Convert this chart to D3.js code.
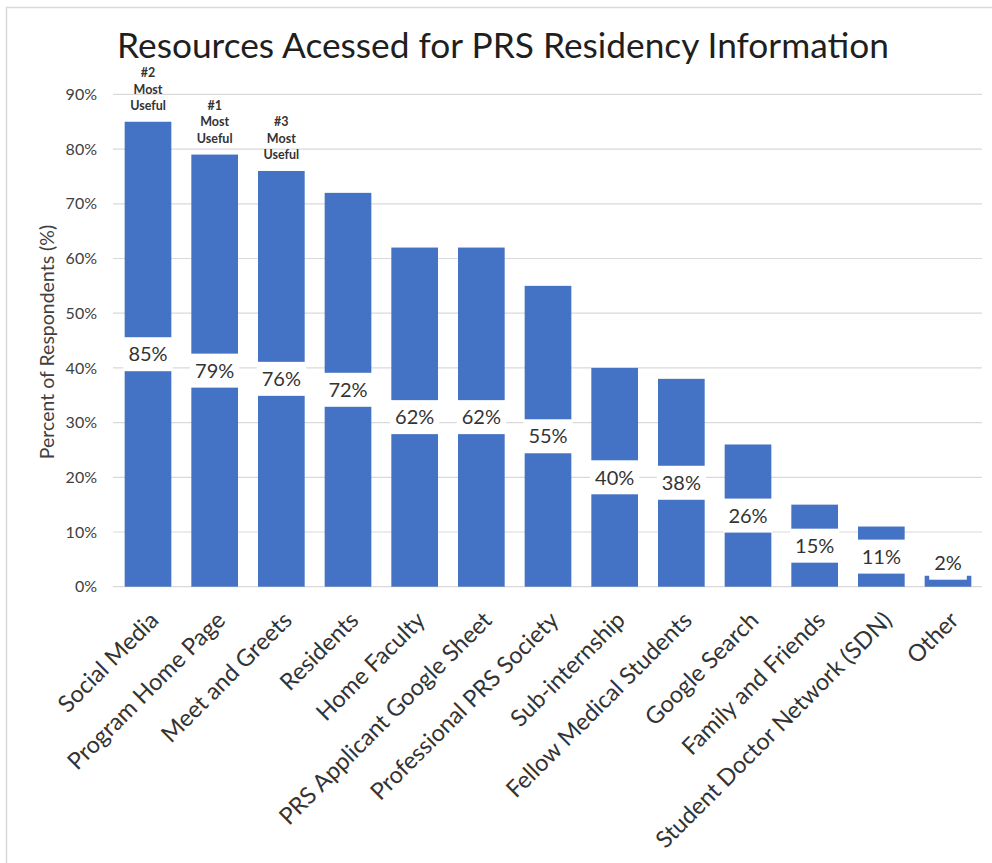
<!DOCTYPE html>
<html>
<head>
<meta charset="utf-8">
<script src="https://cdn.jsdelivr.net/npm/d3@7"></script>
<style>
  html, body { margin: 0; padding: 0; background: #fff; }
  svg { display: block; font-family: Lato, "Open Sans", sans-serif; }
</style>
</head>
<body>
<svg id="chart" width="992" height="863"></svg>
<script>
// Survey: resources respondents used for PRS residency information
const categories = [
  "Social Media", "Program Home Page", "Meet and Greets", "Residents",
  "Home Faculty", "PRS Applicant Google Sheet", "Professional PRS Society",
  "Sub-internship", "Fellow Medical Students", "Google Search",
  "Family and Friends", "Student Doctor Network (SDN)", "Other"
];
const percentValues = [85, 79, 76, 72, 62, 62, 55, 40, 38, 26, 15, 11, 2];
const yTickValues = [0, 10, 20, 30, 40, 50, 60, 70, 80, 90];

// Usefulness ranking callouts
const rankedCategories = ["Social Media", "Program Home Page", "Meet and Greets"];
const rankLabels = ["#2", "#1", "#3"];

const titleText = "Resources Acessed for PRS Residency Information";
const yAxisTitle = "Percent of Respondents (%)";

const svg = d3.select("#chart");
const W = 992, H = 863;

// outer frame
svg.append("rect")
  .attr("x", 6.5).attr("y", 7.5)
  .attr("width", W + 10).attr("height", H + 10)
  .attr("fill", "#fff").attr("stroke", "#d9d9d9").attr("stroke-width", 1.5);

const x = d3.scaleBand()
  .domain(categories)
  .range([114, 982])
  .paddingInner(0.3)
  .paddingOuter(0.16);

const y = d3.scaleLinear()
  .domain([0, 90])
  .range([586.7, 94.4]);

// gridlines
svg.append("g")
  .selectAll("line")
  .data(yTickValues)
  .join("line")
  .attr("x1", 113).attr("x2", 982)
  .attr("y1", d => y(d)).attr("y2", d => y(d))
  .attr("stroke", "#d9d9d9").attr("stroke-width", 1.2);

// y axis tick labels
const yAxis = d3.axisLeft(y)
  .tickValues(yTickValues)
  .tickFormat(d => d + "%")
  .tickSize(0)
  .tickPadding(0);
const yg = svg.append("g").attr("transform", "translate(97,0)").call(yAxis);
yg.select(".domain").remove();
yg.selectAll("text")
  .attr("fill", "#404040")
  .style("font-size", "16px")
  .style("font-family", "Lato, sans-serif");

// y axis title
svg.append("text")
  .attr("transform", "translate(47,342) rotate(-90)")
  .attr("text-anchor", "middle")
  .attr("dy", "0.35em")
  .attr("fill", "#404040")
  .style("font-size", "19.5px")
  .text(yAxisTitle);

// bars
svg.append("g")
  .selectAll("rect")
  .data(categories)
  .join("rect")
  .attr("x", d => x(d))
  .attr("width", x.bandwidth())
  .attr("y", (d, i) => y(percentValues[i]))
  .attr("height", (d, i) => y(0) - y(percentValues[i]))
  .attr("fill", "#4472c4");

// value labels, centered in each bar on a white box
const labelG = svg.append("g");
categories.forEach((c, i) => {
  const v = percentValues[i];
  const cy = Math.min(y(v / 2), y(0) - 24);
  const cx = x(c) + x.bandwidth() / 2;
  const g = labelG.append("g");
  const t = g.append("text")
    .attr("x", cx).attr("y", cy)
    .attr("text-anchor", "middle")
    .attr("dy", "0.36em")
    .attr("fill", "#333")
    .style("font-size", "20px")
    .text(v + "%");
  const w = t.node().getComputedTextLength() + 10;
  g.insert("rect", "text")
    .attr("x", cx - w / 2).attr("y", cy - 17)
    .attr("width", w).attr("height", 34)
    .attr("fill", "#fff");
});

// category labels, rotated
svg.append("g")
  .selectAll("text")
  .data(categories)
  .join("text")
  .attr("transform", d => `translate(${x(d) + x.bandwidth() / 2 + 12},${y(0) + 35}) rotate(-45)`)
  .attr("text-anchor", "end")
  .attr("fill", "#333")
  .style("font-size", "23.5px")
  .text(d => d);

// usefulness callouts above ranked bars
rankedCategories.forEach((c, k) => {
  const i = categories.indexOf(c);
  const cx = x(c) + x.bandwidth() / 2;
  const top = y(percentValues[i]);
  const lines = [rankLabels[k], "Most", "Useful"];
  const t = svg.append("text")
    .attr("text-anchor", "middle")
    .attr("fill", "#333")
    .style("font-size", "12.5px")
    .style("font-weight", "bold");
  lines.forEach((ln, j) => {
    t.append("tspan")
      .attr("x", cx)
      .attr("y", top - 16 - (lines.length - 1 - j) * 16.5)
      .attr("dy", "0.35em")
      .text(ln);
  });
});

// title, sized to its intended width
const title = svg.append("text")
  .attr("x", 503).attr("y", 58)
  .attr("text-anchor", "middle")
  .attr("fill", "#1f1f1f")
  .style("font-size", "32px")
  .text(titleText);
const tw = title.node().getComputedTextLength();
title.style("font-size", (32 * 772 / tw).toFixed(2) + "px");
</script>
</body>
</html>
